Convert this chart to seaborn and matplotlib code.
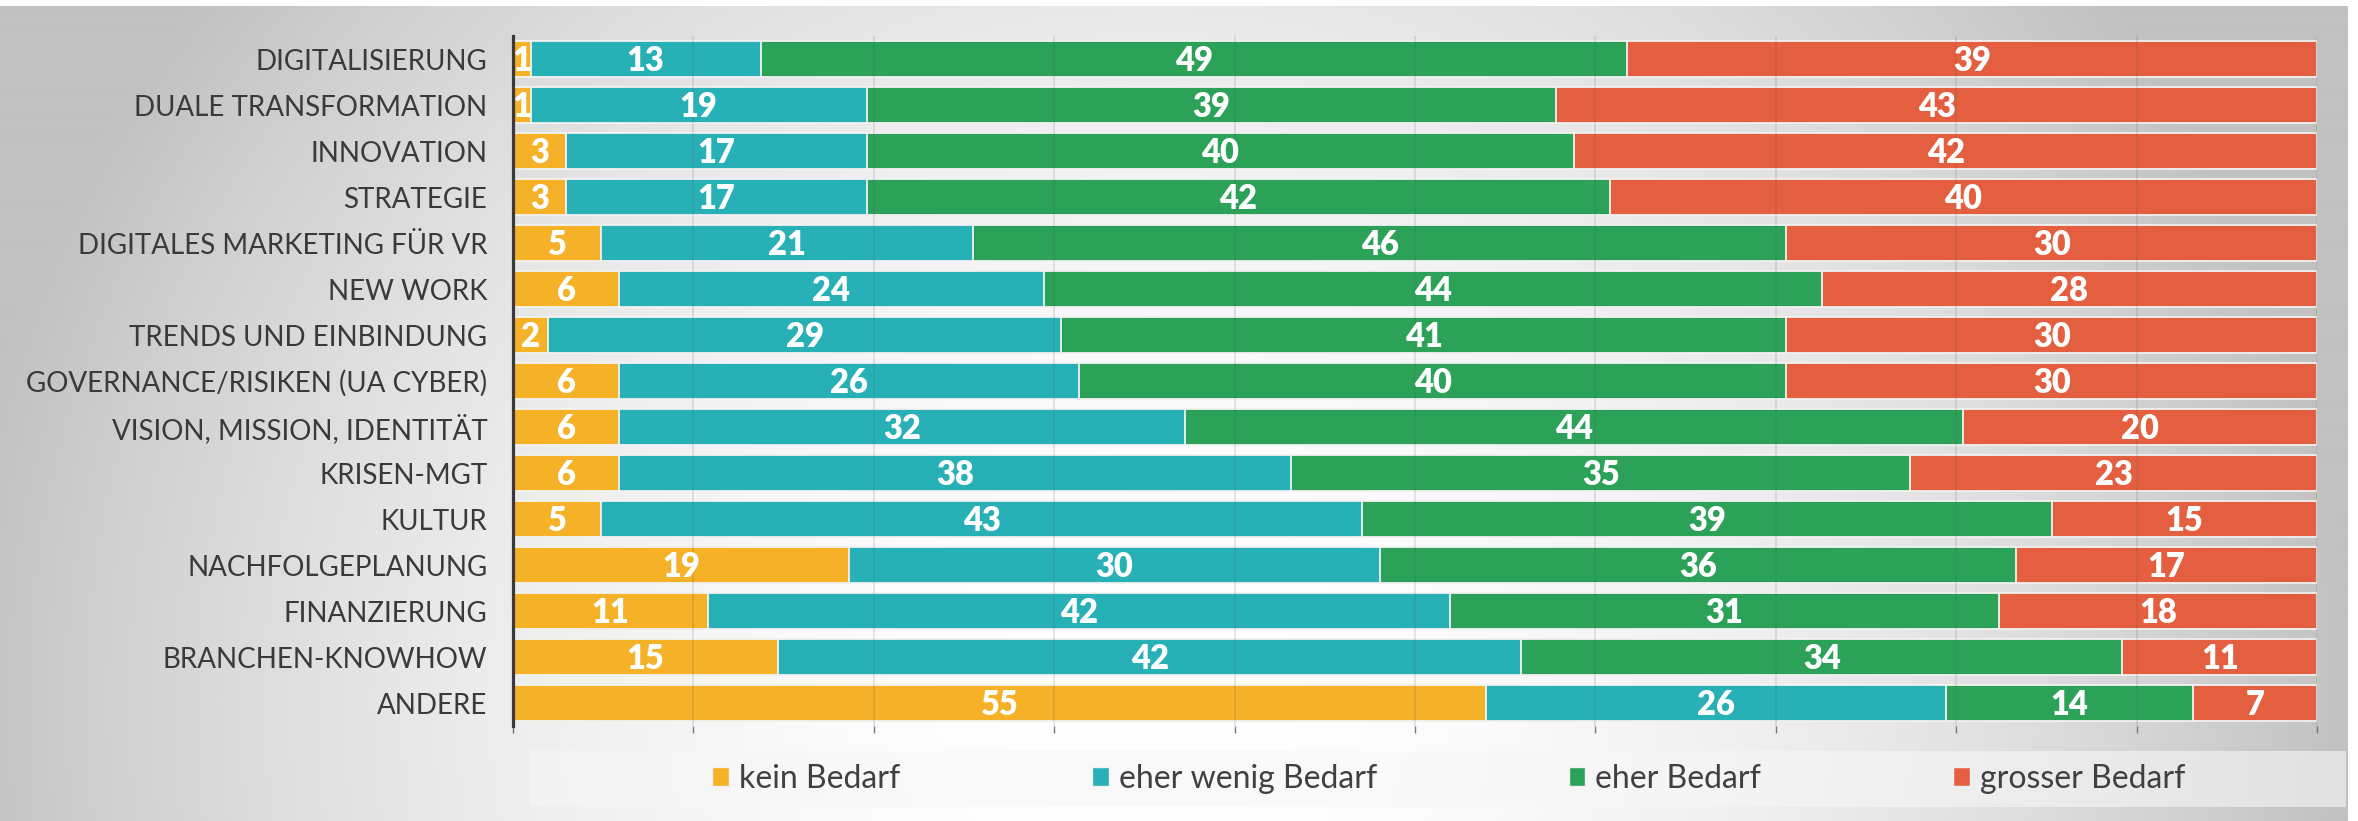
import numpy as np
import pandas as pd
import matplotlib
matplotlib.use("Agg")
import matplotlib.pyplot as plt
import matplotlib.transforms as mtransforms
import seaborn as sns
from matplotlib.patches import Patch, Rectangle

categories = [
    "DIGITALISIERUNG", "DUALE TRANSFORMATION", "INNOVATION", "STRATEGIE",
    "DIGITALES MARKETING FÜR VR", "NEW WORK", "TRENDS UND EINBINDUNG",
    "GOVERNANCE/RISIKEN (UA CYBER)", "VISION, MISSION, IDENTITÄT", "KRISEN-MGT",
    "KULTUR", "NACHFOLGEPLANUNG", "FINANZIERUNG", "BRANCHEN-KNOWHOW", "ANDERE",
]
kein_bedarf = [1, 1, 3, 3, 5, 6, 2, 6, 6, 6, 5, 19, 11, 15, 55]
eher_wenig_bedarf = [13, 19, 17, 17, 21, 24, 29, 26, 32, 38, 43, 30, 42, 42, 26]
eher_bedarf = [49, 39, 40, 42, 46, 44, 41, 40, 44, 35, 39, 36, 31, 34, 14]
grosser_bedarf = [39, 43, 42, 40, 30, 28, 30, 30, 20, 23, 15, 17, 18, 11, 7]
series_names = ["kein Bedarf", "eher wenig Bedarf", "eher Bedarf", "grosser Bedarf"]
colors = ["#F5B127", "#27B1B6", "#2BA258", "#E45E40"]

sns.set_theme(style="white")
plt.rcParams["font.family"] = ["Lato", "DejaVu Sans"]

W, H = 2358, 821
fig = plt.figure(figsize=(W / 100, H / 100), dpi=100)
fig.patch.set_facecolor("white")

# background gradient panel
bg = fig.add_axes([0, 0, 2348 / W, (H - 6) / H])
yy, xx = np.mgrid[6:H, 0:2348].astype(float)
d2 = ((xx - 1150) / 1200) ** 2 + ((yy - 700) / 1150) ** 2
val = (255 - 62 * np.clip(d2, 0, 1)) / 255.0
bg.imshow(np.dstack([val, val, val]), aspect="auto", interpolation="bilinear")
bg.set_axis_off()
bg.set_zorder(-10)

# legend band
fig.patches.append(Rectangle((529 / W, 1 - 807 / H), (2346 - 529) / W, 56 / H,
                             transform=fig.transFigure, facecolor="#f7f7f7",
                             alpha=0.6, edgecolor="none", zorder=-5))

ax = fig.add_axes([513 / W, 1 - 726 / H, (2317 - 513) / W, 690 / H])
ax.set_facecolor("none")

df = pd.DataFrame({
    "cat": categories,
    series_names[0]: kein_bedarf,
    series_names[1]: eher_wenig_bedarf,
    series_names[2]: eher_bedarf,
    series_names[3]: grosser_bedarf,
})
vals = df[series_names].to_numpy(dtype=float)
pct = vals / vals.sum(axis=1, keepdims=True) * 100
cum = np.cumsum(pct, axis=1)
for k in range(4):
    df[f"cum{k}"] = cum[:, k]

for k in reversed(range(4)):
    sns.barplot(data=df, x=f"cum{k}", y="cat", order=categories, orient="h",
                color=colors[k], saturation=1, width=0.78, errorbar=None,
                edgecolor="#f2f2f2", linewidth=1.3, ax=ax)

txt_tr = mtransforms.offset_copy(ax.transData, fig=fig, y=-8.4, units="points")
for i in range(len(categories)):
    for k in range(4):
        center = cum[i, k] - pct[i, k] / 2
        ax.text(center, i, str(int(vals[i, k])), ha="center", va="baseline",
                color="white", fontsize=23.5, fontweight="heavy", zorder=5,
                transform=txt_tr)

ax.set_xlim(0, 100)
ax.set_ylim(14.5, -0.5)
ax.set_xlabel("")
ax.set_ylabel("")
ax.set_xticks(np.arange(0, 101, 10))
ax.set_xticklabels([])
ax.tick_params(axis="x", bottom=True, length=5, width=1, color="#777777")
ax.tick_params(axis="y", left=False, length=0, pad=18.5, labelsize=20,
               labelcolor="#3a3a3a")
for lab in ax.get_yticklabels():
    lab.set_fontweight("normal")
for s in ["top", "right", "bottom"]:
    ax.spines[s].set_visible(False)
ax.spines["left"].set_color("#3a3a3a")
ax.spines["left"].set_linewidth(2.3)
ax.spines["left"].set_zorder(6)
ax.xaxis.grid(True, color="#555555", alpha=0.18, linewidth=1.1)
ax.set_axisbelow(False)

handles = [Patch(facecolor=c, edgecolor="#f2f2f2", linewidth=1) for c in colors]
fig.legend(handles, series_names, loc="center left",
           bbox_to_anchor=(712 / W, 1 - 779 / H), ncol=4, frameon=False,
           fontsize=23, handlelength=0.53, handleheight=0.53,
           handletextpad=0.31, columnspacing=6.0, borderpad=0, borderaxespad=0,
           labelcolor="#404040")

fig.savefig("out.png", dpi=100, facecolor="white")
